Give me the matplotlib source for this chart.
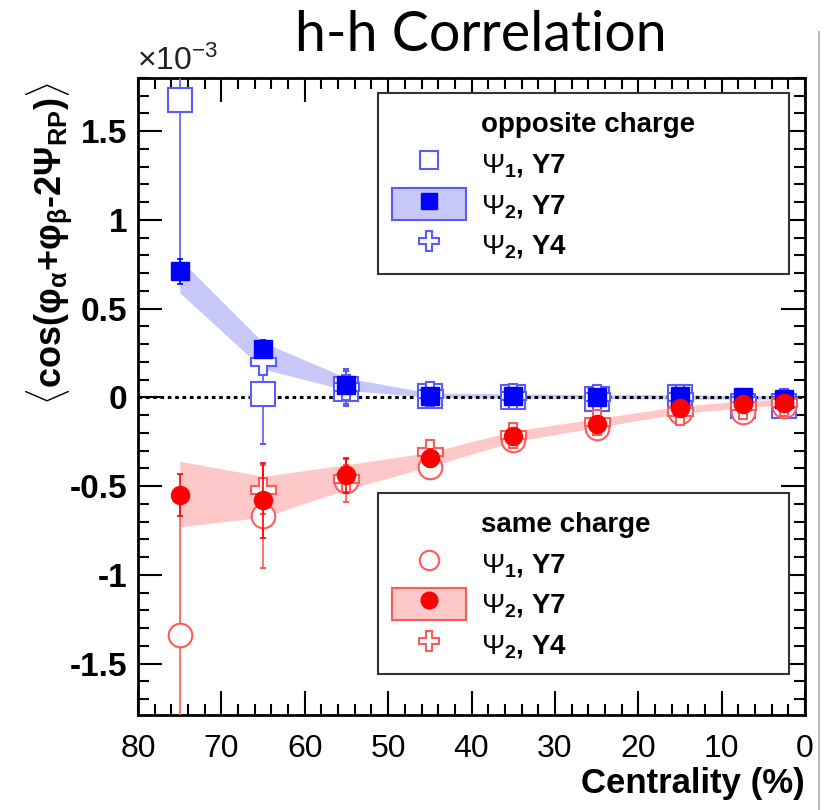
import matplotlib
matplotlib.use('Agg')
import matplotlib.pyplot as plt
import matplotlib.ticker as ticker
from matplotlib.lines import Line2D
from matplotlib.patches import Patch
import numpy as np

plt.rcParams['font.family'] = ['Liberation Sans', 'DejaVu Sans']
plt.rcParams['mathtext.fontset'] = 'custom'
plt.rcParams['mathtext.rm'] = 'Liberation Sans'
plt.rcParams['mathtext.it'] = 'Liberation Sans:italic'
plt.rcParams['mathtext.bf'] = 'Liberation Sans:bold'

# centrality bins (%)
cent = [75, 65, 55, 45, 35, 25, 15, 7.5, 2.5]
cent_y4 = [65, 55, 45, 35, 25, 15, 7.5, 2.5]

# opposite charge (x10^-3)
opp_psi1 = [1.675, 0.02, 0.05, 0.01, 0.0, -0.01, 0.0, -0.05, -0.05]
opp_psi1_err = [0.92, 0.28, 0.10, 0.05, 0.04, 0.03, 0.03, 0.04, 0.04]
opp_psi2 = [0.71, 0.275, 0.07, 0.01, 0.005, 0.0, 0.005, 0.0, -0.01]
opp_psi2_err = [0.07, 0.05, 0.04, 0.03, 0.02, 0.02, 0.02, 0.02, 0.02]
opp_band_lo = [0.59, 0.16, 0.04, 0.0, -0.005, -0.005, -0.01, -0.01, -0.01]
opp_band_hi = [0.78, 0.31, 0.11, 0.025, 0.02, 0.015, 0.015, 0.01, 0.01]
opp_y4 = [0.2, 0.06, 0.02, 0.01, 0.0, 0.0, -0.02, -0.02]
opp_y4_err = [0.06, 0.1, 0.05, 0.04, 0.03, 0.03, 0.03, 0.03]

# same charge (x10^-3)
same_psi1 = [-1.34, -0.67, -0.47, -0.39, -0.24, -0.17, -0.08, -0.08, -0.05]
same_psi1_err = [0.8, 0.29, 0.12, 0.06, 0.05, 0.04, 0.05, 0.05, 0.06]
same_psi2 = [-0.55, -0.58, -0.44, -0.34, -0.22, -0.15, -0.06, -0.04, -0.03]
same_psi2_err = [0.12, 0.21, 0.1, 0.05, 0.04, 0.03, 0.03, 0.03, 0.03]
same_band_lo = [-0.73, -0.675, -0.52, -0.39, -0.25, -0.17, -0.09, -0.06, -0.04]
same_band_hi = [-0.36, -0.445, -0.38, -0.31, -0.19, -0.12, -0.05, -0.02, -0.01]
same_y4 = [-0.52, -0.46, -0.31, -0.21, -0.14, -0.08, -0.05, -0.03]
same_y4_err = [0.14, 0.08, 0.05, 0.04, 0.03, 0.04, 0.04, 0.05]

blue = '#0000ff'
blue_l = '#5a5aff'
blue_band = '#c8c8f8'
red = '#ff0000'
red_l = '#ff5a5a'
red_band = '#ffc8c8'

fig = plt.figure(figsize=(8.24, 8.10), dpi=100)
ax = fig.add_axes([0.1675, 0.1173, 0.8095, 0.7864])

# systematic bands
ax.fill_between(cent, opp_band_lo, opp_band_hi, color=blue_band, lw=0, zorder=1)
ax.fill_between(cent, same_band_lo, same_band_hi, color=red_band, lw=0, zorder=1)

ax.axhline(0, color='black', ls=(0, (1.2, 1.2)), lw=2.2, zorder=2)

ekw = dict(elinewidth=1.2, capsize=2.5, capthick=1.2, ls='none')

# open markers first
ax.errorbar(cent, opp_psi1, yerr=opp_psi1_err, marker='s', ms=17, mfc='white',
            mec=blue_l, mew=1.5, ecolor=blue_l, zorder=3, **ekw)
ax.errorbar(cent, same_psi1, yerr=same_psi1_err, marker='o', ms=17, mfc='white',
            mec=red_l, mew=1.5, ecolor=red_l, zorder=3, **ekw)
ax.errorbar(cent_y4, opp_y4, yerr=opp_y4_err, marker='P', ms=18, mfc='white',
            mec=blue_l, mew=1.5, ecolor=blue_l, zorder=4, **ekw)
ax.errorbar(cent_y4, same_y4, yerr=same_y4_err, marker='P', ms=18, mfc='white',
            mec=red_l, mew=1.5, ecolor=red_l, zorder=4, **ekw)
# filled markers
ax.errorbar(cent, opp_psi2, yerr=opp_psi2_err, marker='s', ms=13, mfc=blue,
            mec=blue, ecolor=blue, zorder=5, **ekw)
ax.errorbar(cent, same_psi2, yerr=same_psi2_err, marker='o', ms=13, mfc=red,
            mec=red, ecolor=red, zorder=5, **ekw)

ax.set_xlim(80, 0)
ax.set_ylim(-1.79, 1.8)
ax.xaxis.set_major_locator(ticker.MultipleLocator(10))
ax.xaxis.set_minor_locator(ticker.MultipleLocator(2))
ax.yaxis.set_major_locator(ticker.MultipleLocator(0.5))
ax.yaxis.set_minor_locator(ticker.MultipleLocator(0.1))
ax.yaxis.set_major_formatter(ticker.FuncFormatter(lambda v, p: '0' if abs(v) < 1e-9 else ('%g' % v)))
ax.tick_params(which='both', direction='in', top=True, right=True, width=1.5)
ax.tick_params(which='major', length=17)
ax.tick_params(which='minor', length=8)
ax.tick_params(axis='x', labelsize=23, pad=14)
ax.tick_params(axis='y', labelsize=24, pad=8)
for lab in ax.get_yticklabels():
    lab.set_fontweight('bold')
for sp in ax.spines.values():
    sp.set_linewidth(2)

ax.set_xlabel('Centrality (%)', fontsize=25, fontweight='bold', loc='right', labelpad=2)

ylab = ('$\\langle$cos(\u03c6$_{\\mathbf{\\alpha}}$+\u03c6$_{\\mathbf{\\beta}}$'
        '-2\u03a8$_{\\mathbf{RP}}$)$\\rangle$')
fig.text(0.06, 0.70, ylab, rotation=90, fontsize=26, fontweight='bold',
         ha='center', va='center')
fig.text(0.166, 0.905, r'$\times$10$^{-3}$', fontsize=23, ha='left', va='bottom',
         color='#222222')
fig.text(0.583, 0.925, 'h-h Correlation', fontsize=40, family=['Lato', 'DejaVu Sans'],
         ha='center', va='bottom')

# legends
blank = Line2D([], [], ls='none')
opp_handles = [
    blank,
    Line2D([], [], ls='none', marker='s', ms=13, mfc='white', mec=blue_l, mew=1.5),
    (Patch(fc=blue_band, ec=blue_l, lw=1.5),
     Line2D([], [], ls='none', marker='s', ms=11, mfc=blue, mec=blue)),
    Line2D([], [], ls='none', marker='P', ms=15, mfc='white', mec=blue_l, mew=1.5),
]
same_handles = [
    blank,
    Line2D([], [], ls='none', marker='o', ms=14, mfc='white', mec=red_l, mew=1.5),
    (Patch(fc=red_band, ec=red_l, lw=1.5),
     Line2D([], [], ls='none', marker='o', ms=12, mfc=red, mec=red)),
    Line2D([], [], ls='none', marker='P', ms=15, mfc='white', mec=red_l, mew=1.5),
]
labs_opp = ['opposite charge', r'$\Psi_{\mathbf{1}}$, Y7', r'$\Psi_{\mathbf{2}}$, Y7',
            r'$\Psi_{\mathbf{2}}$, Y4']
labs_same = ['same charge', r'$\Psi_{\mathbf{1}}$, Y7', r'$\Psi_{\mathbf{2}}$, Y7',
             r'$\Psi_{\mathbf{2}}$, Y4']

leg_kw = dict(loc='upper left', mode='expand', fancybox=False, edgecolor='#333333',
              framealpha=1, handlelength=2.65, handleheight=1.4, labelspacing=0.3,
              borderpad=0.5, handletextpad=0.55, borderaxespad=0,
              prop={'size': 20, 'weight': 'bold'})
leg1 = ax.legend(opp_handles, labs_opp, bbox_to_anchor=(0.36, 0.976, 0.616, 0.0), **leg_kw)
leg1.get_frame().set_linewidth(1.5)
ax.add_artist(leg1)
leg2 = ax.legend(same_handles, labs_same, bbox_to_anchor=(0.36, 0.3485, 0.616, 0.0), **leg_kw)
leg2.get_frame().set_linewidth(1.5)

# screenshot border on the right
fig.add_artist(Line2D([0.994, 0.994], [0.0, 0.96], transform=fig.transFigure,
                      color='#bbbbbb', lw=1.5))

plt.savefig('out.png', dpi=100)
plt.close()
